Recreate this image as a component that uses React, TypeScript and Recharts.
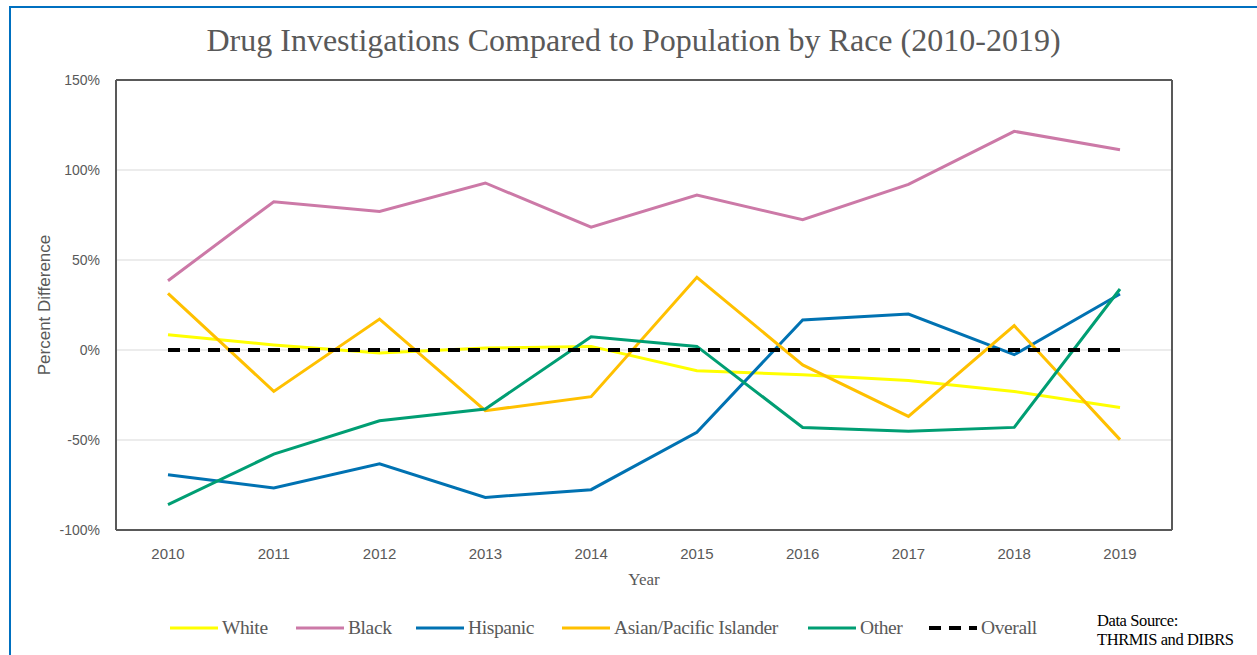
import { CartesianGrid, Line, LineChart, XAxis, YAxis } from "recharts";

const years = ["2010", "2011", "2012", "2013", "2014", "2015", "2016", "2017", "2018", "2019"];

const white = [8.5, 2.8, -1.7, 1.1, 2.0, -11.5, -13.7, -17.0, -23.0, -31.9];
const black = [38.5, 82.4, 77.0, 92.8, 68.2, 86.1, 72.4, 92.0, 121.5, 111.3];
const hispanic = [-69.3, -76.7, -63.2, -81.9, -77.6, -45.7, 16.7, 20.0, -2.6, 31.1];
const asian = [31.5, -23.0, 17.2, -33.7, -25.9, 40.4, -8.3, -36.9, 13.5, -49.8];
const other = [-85.9, -57.8, -39.3, -32.8, 7.4, 2.0, -43.0, -45.2, -43.0, 33.9];
const overall = [0, 0, 0, 0, 0, 0, 0, 0, 0, 0];

const yTicks = [-100, -50, 0, 50, 100, 150];

const series = [
  { key: "white", name: "White", color: "#ffff00", dashed: false, legendX: 170 },
  { key: "black", name: "Black", color: "#cc79a7", dashed: false, legendX: 296 },
  { key: "hispanic", name: "Hispanic", color: "#0072b2", dashed: false, legendX: 416 },
  { key: "asian", name: "Asian/Pacific Islander", color: "#ffc000", dashed: false, legendX: 562 },
  { key: "other", name: "Other", color: "#009e73", dashed: false, legendX: 808 },
  { key: "overall", name: "Overall", color: "#000000", dashed: true, legendX: 929 },
];

const data = years.map((year, i) => ({
  year,
  white: white[i],
  black: black[i],
  hispanic: hispanic[i],
  asian: asian[i],
  other: other[i],
  overall: overall[i],
}));

const sans = "'Liberation Sans', Arial, sans-serif";
const serif = "'Liberation Serif', 'Times New Roman', serif";
const textGray = "#595959";
const frameGray = "#595959";

function Legend() {
  return (
    <>
      {series.map((s) => (
        <div
          key={s.key}
          style={{
            position: "absolute",
            left: s.legendX,
            top: 628,
            transform: "translateY(-50%)",
            display: "flex",
            alignItems: "center",
            fontFamily: serif,
            fontSize: 19.5,
            color: textGray,
            whiteSpace: "nowrap",
          }}
        >
          <svg width={48} height={6} style={{ marginRight: 4 }}>
            <line
              x1={0}
              y1={3}
              x2={48}
              y2={3}
              stroke={s.color}
              strokeWidth={s.dashed ? 4 : 3}
              strokeDasharray={s.dashed ? "12 8" : undefined}
            />
          </svg>
          <span style={{ letterSpacing: -0.4 }}>{s.name}</span>
        </div>
      ))}
    </>
  );
}

export default function App() {
  return (
    <div
      style={{
        position: "absolute",
        left: 0,
        top: 0,
        width: 1257,
        height: 655,
        overflow: "hidden",
        background: "#ffffff",
      }}
    >
      <div
        style={{
          position: "absolute",
          left: 0,
          width: 1257,
          top: 22,
          textAlign: "center",
          fontFamily: serif,
          fontSize: 32,
          color: textGray,
          paddingLeft: 10,
          boxSizing: "border-box",
        }}
      >
        Drug Investigations Compared to Population by Race (2010-2019)
      </div>

      <div style={{ position: "absolute", left: 0, top: 0 }}>
        <LineChart
          width={1257}
          height={655}
          data={data}
          margin={{ top: 79, right: 84, left: 0, bottom: 95 }}
        >
          <CartesianGrid vertical={false} stroke="#d9d9d9" strokeWidth={1} />
          <XAxis
            dataKey="year"
            padding={{ left: 52, right: 52 }}
            height={30}
            tickSize={0}
            tickMargin={18}
            axisLine={{ stroke: frameGray, strokeWidth: 2 }}
            tickLine={false}
            tick={{ fill: textGray, fontSize: 15, fontFamily: sans }}
          />
          <XAxis
            xAxisId="top"
            orientation="top"
            dataKey="year"
            padding={{ left: 52, right: 52 }}
            height={1}
            tick={false}
            tickLine={false}
            axisLine={{ stroke: frameGray, strokeWidth: 2 }}
          />
          <YAxis
            domain={[-100, 150]}
            ticks={yTicks}
            width={116}
            tickSize={0}
            tickMargin={16}
            tickFormatter={(v: number) => `${v}%`}
            axisLine={{ stroke: frameGray, strokeWidth: 2 }}
            tickLine={false}
            tick={{ fill: textGray, fontSize: 14, fontFamily: sans }}
          />
          <YAxis
            yAxisId="right"
            orientation="right"
            domain={[-100, 150]}
            ticks={yTicks}
            width={1}
            tick={false}
            tickLine={false}
            axisLine={{ stroke: frameGray, strokeWidth: 2 }}
          />
          {series.map((s) => (
            <Line
              key={s.key}
              type="linear"
              dataKey={s.key}
              name={s.name}
              xAxisId={s.dashed ? "top" : 0}
              yAxisId={s.dashed ? "right" : 0}
              stroke={s.color}
              strokeWidth={s.dashed ? 4 : 3}
              strokeDasharray={s.dashed ? "12 8" : undefined}
              dot={false}
              activeDot={false}
              isAnimationActive={false}
            />
          ))}
        </LineChart>
      </div>

      <div
        style={{
          position: "absolute",
          left: 45,
          top: 305,
          transform: "translate(-50%, -50%) rotate(-90deg)",
          whiteSpace: "nowrap",
          fontFamily: sans,
          fontSize: 17,
          color: textGray,
        }}
      >
        Percent Difference
      </div>
      <div
        style={{
          position: "absolute",
          left: 644,
          top: 580,
          transform: "translate(-50%, -50%)",
          fontFamily: serif,
          fontSize: 17,
          color: textGray,
        }}
      >
        Year
      </div>

      <Legend />

      <div
        style={{
          position: "absolute",
          left: 1097,
          top: 611,
          fontFamily: serif,
          fontSize: 16.5,
          lineHeight: "19px",
          color: "#000000",
          letterSpacing: -0.4,
        }}
      >
        Data Source:
        <br />
        THRMIS and DIBRS
      </div>

      <div
        style={{
          position: "absolute",
          left: 9,
          top: 6,
          width: 1270,
          height: 700,
          border: "2px solid #0070c0",
          boxSizing: "border-box",
          pointerEvents: "none",
        }}
      />
    </div>
  );
}
